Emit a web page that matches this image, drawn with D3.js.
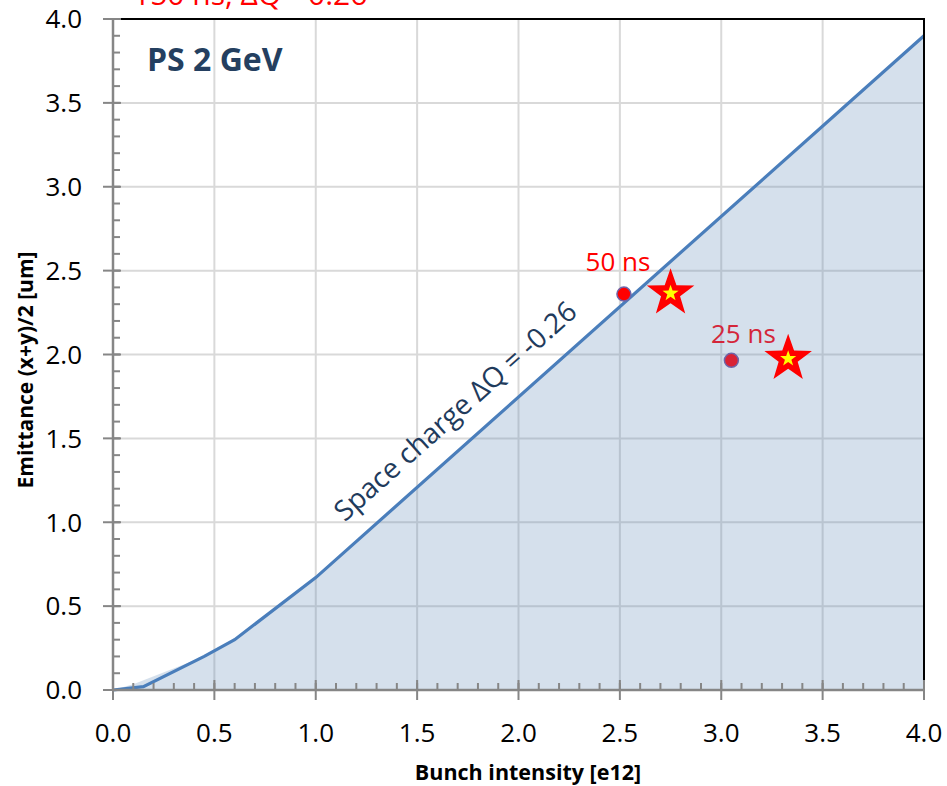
<!DOCTYPE html>
<html>
<head>
<meta charset="utf-8">
<script src="https://cdn.jsdelivr.net/npm/d3@7/dist/d3.min.js"></script>
<style>
body { margin: 0; background: #fff; }
text { font-family: "Open Sans", sans-serif; }
</style>
</head>
<body>
<div id="chart"></div>
<script>
var width = 947;
var height = 786;

// space charge limit (dQ = -0.26)
var lineX = [0, 0.15, 0.45, 0.6, 1.0, 4.0];
var lineY = [0, 0.02, 0.2, 0.3, 0.67, 3.9];
// shaded region under the limit
var areaX = [0, 0.1, 0.45, 0.6, 1.0, 4.0];
var areaY = [0, 0.035, 0.2, 0.3, 0.67, 3.9];

// beams (dots)
var beamNames = ["50 ns", "25 ns"];
var beamX = [2.52, 3.05];
var beamY = [2.36, 1.965];
var beamFill = ["#ff0000", "#d92335"];
var beamText = ["#ff0000", "#d4263a"];
// targets (stars)
var starX = [2.75, 3.33];
var starY = [2.365, 1.975];

// axes
var majorTicks = [0, 0.5, 1.0, 1.5, 2.0, 2.5, 3.0, 3.5, 4.0];
var tickLabels = ["0.0", "0.5", "1.0", "1.5", "2.0", "2.5", "3.0", "3.5", "4.0"];
var minorTicks = d3.range(0, 41).map((i) => i / 10);

var xTitle = "Bunch intensity [e12]";
var yTitle = "Emittance (x+y)/2 [um]";

function starPath(r1, r2) {
	var pts = [];
	for (var i = 0; i < 10; i++) {
		var r = i % 2 == 0 ? r1 : r2;
		var a = -Math.PI / 2 + i * Math.PI / 5;
		pts.push([r * Math.cos(a), r * Math.sin(a)]);
	}
	return d3.line()(pts) + "Z";
}

function drawChart(tag) {
	var svg = d3
		.select(tag)
		.append("svg")
		.attr("width", width)
		.attr("height", height);

	var x = d3.scaleLinear().domain([0, 4]).range([113, 924]);
	var y = d3.scaleLinear().domain([0, 4]).range([690, 19]);

	// red caption, cut off by the top edge like in the original slide
	svg.append("text")
		.attr("x", 133)
		.attr("y", 5)
		.attr("fill", "#ff0000")
		.attr("font-size", 30)
		.text("150 ns, \u0394Q=-0.26");

	// grid
	svg.append("g")
		.selectAll("line")
		.data(majorTicks.slice(1))
		.join("line")
		.attr("x1", (d) => x(d))
		.attr("x2", (d) => x(d))
		.attr("y1", y(0))
		.attr("y2", y(4))
		.attr("stroke", "#d9d9d9")
		.attr("stroke-width", 2);
	svg.append("g")
		.selectAll("line")
		.data(majorTicks.slice(1))
		.join("line")
		.attr("x1", x(0))
		.attr("x2", x(4))
		.attr("y1", (d) => y(d))
		.attr("y2", (d) => y(d))
		.attr("stroke", "#d9d9d9")
		.attr("stroke-width", 2);

	// shaded area
	var area = d3.area()
		.x((d) => x(d[0]))
		.y0(y(0))
		.y1((d) => y(d[1]));
	svg.append("path")
		.datum(areaX.map((d, i) => [d, areaY[i]]))
		.attr("d", area)
		.attr("fill", "rgb(93,136,182)")
		.attr("fill-opacity", 0.26);

	// limit line
	svg.append("path")
		.datum(lineX.map((d, i) => [d, lineY[i]]))
		.attr("d", d3.line().x((d) => x(d[0])).y((d) => y(d[1])))
		.attr("fill", "none")
		.attr("stroke", "#4a7ebb")
		.attr("stroke-width", 3.2);

	// plot border (top / right)
	svg.append("path")
		.attr("d", `M${x(0)},${y(4)}H${x(4)}V${y(0)}`)
		.attr("fill", "none")
		.attr("stroke", "#000")
		.attr("stroke-width", 2);

	// axes
	var axis = svg.append("g").attr("stroke", "#868686").attr("stroke-width", 2.5);
	axis.append("line")
		.attr("x1", x(0)).attr("x2", x(4))
		.attr("y1", y(0)).attr("y2", y(0));
	axis.append("line")
		.attr("x1", x(0)).attr("x2", x(0))
		.attr("y1", y(0)).attr("y2", y(4));

	var ticks = svg.append("g").attr("stroke", "#868686").attr("stroke-width", 2);
	ticks.append("g").selectAll("line")
		.data(minorTicks.slice(1))
		.join("line")
		.attr("x1", (d) => x(d)).attr("x2", (d) => x(d))
		.attr("y1", y(0)).attr("y2", y(0) - 7);
	ticks.append("g").selectAll("line")
		.data(minorTicks.slice(1))
		.join("line")
		.attr("x1", x(0)).attr("x2", x(0) + 7)
		.attr("y1", (d) => y(d)).attr("y2", (d) => y(d));
	ticks.append("g").selectAll("line")
		.data(majorTicks)
		.join("line")
		.attr("x1", (d) => x(d)).attr("x2", (d) => x(d))
		.attr("y1", y(0) - 10).attr("y2", y(0) + 10);
	ticks.append("g").selectAll("line")
		.data(majorTicks)
		.join("line")
		.attr("x1", x(0) - 10).attr("x2", x(0) + 8)
		.attr("y1", (d) => y(d)).attr("y2", (d) => y(d));

	// tick labels
	svg.append("g")
		.selectAll("text")
		.data(majorTicks)
		.join("text")
		.attr("x", (d) => x(d))
		.attr("y", y(0) + 52)
		.attr("text-anchor", "middle")
		.attr("font-size", 26)
		.attr("fill", "#000")
		.text((d, i) => tickLabels[i]);
	svg.append("g")
		.selectAll("text")
		.data(majorTicks)
		.join("text")
		.attr("x", x(0) - 31)
		.attr("y", (d) => y(d))
		.attr("dy", "0.36em")
		.attr("text-anchor", "end")
		.attr("font-size", 26)
		.attr("fill", "#000")
		.text((d, i) => tickLabels[i]);

	// axis titles
	svg.append("text")
		.attr("x", 528)
		.attr("y", 780)
		.attr("text-anchor", "middle")
		.attr("font-size", 21.5)
		.attr("font-weight", "bold")
		.text(xTitle);
	svg.append("text")
		.attr("transform", "translate(33,370) rotate(-90)")
		.attr("text-anchor", "middle")
		.attr("font-size", 21)
		.attr("font-weight", "bold")
		.text(yTitle);

	// annotations
	svg.append("text")
		.attr("x", 147)
		.attr("y", 71)
		.attr("font-size", 32)
		.attr("font-weight", "bold")
		.attr("fill", "#243f60")
		.text("PS 2 GeV");

	var ang = Math.atan2(y(lineY[5]) - y(lineY[4]), x(lineX[5]) - x(lineX[4])) * 180 / Math.PI;
	svg.append("text")
		.attr("transform", `translate(${x(1.72)},${y(1.62)}) rotate(${ang})`)
		.attr("text-anchor", "middle")
		.attr("font-size", 28)
		.attr("fill", "#1f3b5c")
		.text("Space charge \u0394Q = -0.26");

	// beam dots + labels
	var labelDx = [-6, 12];
	var labelDy = [-23, -17];
	svg.append("g")
		.selectAll("circle")
		.data(beamX)
		.join("circle")
		.attr("cx", (d) => x(d))
		.attr("cy", (d, i) => y(beamY[i]))
		.attr("r", 7)
		.attr("fill", (d, i) => beamFill[i])
		.attr("stroke", "#6f64a8")
		.attr("stroke-width", 1.5);
	svg.append("g")
		.selectAll("text")
		.data(beamX)
		.join("text")
		.attr("x", (d, i) => x(d) + labelDx[i])
		.attr("y", (d, i) => y(beamY[i]) + labelDy[i])
		.attr("text-anchor", "middle")
		.attr("font-size", 26)
		.attr("fill", (d, i) => beamText[i])
		.text((d, i) => beamNames[i]);

	// target stars
	var stars = svg.append("g")
		.selectAll("g")
		.data(starX)
		.join("g")
		.attr("transform", (d, i) => `translate(${x(d)},${y(starY[i])})`);
	stars.append("path")
		.attr("d", starPath(25, 10))
		.attr("fill", "#ff0000");
	stars.append("path")
		.attr("d", starPath(8.5, 3.4))
		.attr("fill", "#ffff00");
}

drawChart("#chart");
</script>
</body>
</html>
